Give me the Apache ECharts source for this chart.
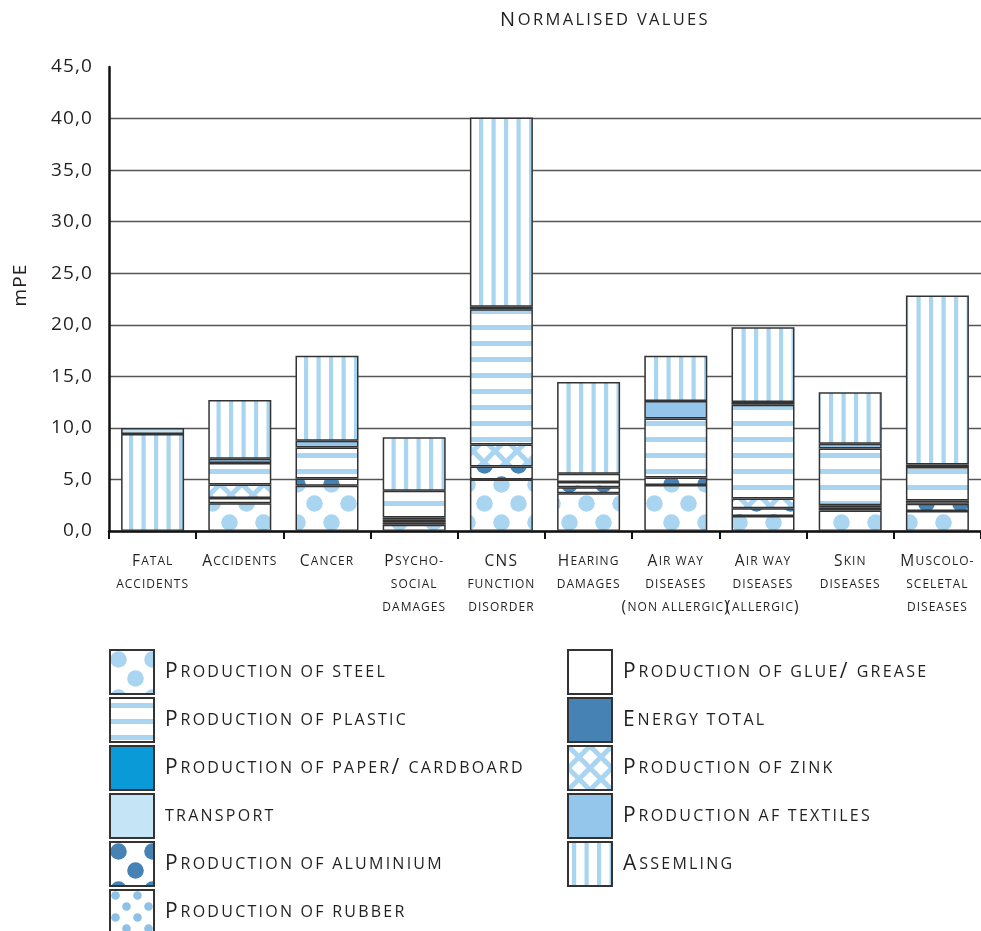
<!DOCTYPE html>
<html><head><meta charset="utf-8">
<script src="https://cdn.jsdelivr.net/npm/echarts@6/dist/echarts.min.js"></script>
<style>html,body{margin:0;padding:0;background:#fff}#c{width:981px;height:931px}</style>
</head><body><div id="c"></div>
<script>
// ---- data ----
const categories = ['Fatal\naccidents', 'Accidents', 'Cancer', 'Psycho-\nsocial\ndamages', 'CNS\nfunction\ndisorder',
  'Hearing\ndamages', 'Air way\ndiseases\n(non allergic)', 'Air way\ndiseases\n(allergic)', 'Skin\ndiseases', 'Muscolo-\nsceletal\ndiseases'];
const yMin = 0, yMax = 45, yStep = 5;
const titleText = 'Normalised values';
const yName = 'mPE';

const steel      = [0,   2.7, 4.4,  0.6,  5.0,   3.65, 4.45, 1.45, 2.0,  1.95];
const aluminium  = [0,   0,   0.7,  0.25, 1.25,  0.6,  0.75, 0.75, 0,    0.7];
const rubber     = [0,   0,   0,    0.3,  0,     0.5,  0,    0,    0,    0];
const glue       = [0,   0.5, 0,    0.15, 0,     0,    0,    0,    0.25, 0.3];
const energy     = [0,   0,   0,    0,    0,     0,    0,    0,    0.25, 0];
const zink       = [0,   1.3, 0,    0,    2.15,  0,    0,    0.95, 0,    0];
const plastic    = [0,   2.1, 3.0,  2.6,  13.1,  0.8,  5.7,  9.1,  5.5,  3.25];
const paper      = [0,   0,   0,    0,    0.25,  0,    0,    0.25, 0,    0.25];
const textiles   = [0,   0.4, 0.65, 0,    0,     0,    1.7,  0,    0.45, 0];
const assembling = [9.4, 5.7, 8.25, 5.2,  18.35, 8.9,  4.4,  7.25, 5.0,  16.4];
const transport  = [0.6, 0,   0,    0,    0,     0,    0,    0,    0,    0];

const legendLeft  = ['Production of steel', 'Production of plastic', 'Production of paper/ cardboard', 'transport', 'Production of aluminium', 'Production of rubber'];
const legendRight = ['Production of glue/ grease', 'Energy total', 'Production of zink', 'Production af textiles', 'Assemling'];

// ---- letter tracking for canvas text (small caps typography of the original) ----
(function () {
  const P = window.CanvasRenderingContext2D && CanvasRenderingContext2D.prototype;
  if (!P || !('letterSpacing' in P)) return;
  const d = Object.getOwnPropertyDescriptor(P, 'font');
  if (!d || !d.set) return;
  Object.defineProperty(P, 'font', {
    configurable: true, enumerable: d.enumerable,
    get() { return d.get.call(this); },
    set(v) {
      d.set.call(this, v);
      const m = /([\d.]+)px/.exec(v);
      if (m) {
        const s = parseFloat(m[1]);
        let em = 0.14;
        if (s > 18.5 && s < 19.5) em = 0.06;       // numeric tick labels / axis name
        else if (s < 15.8) em = 0.085;             // category labels
        try { this.letterSpacing = (s * em).toFixed(2) + 'px'; } catch (e) {}
      }
    }
  });
})();

// ---- patterns ----
const LIGHT = '#aad5f0';
function tile(w, h, draw) {
  const c = document.createElement('canvas');
  c.width = w; c.height = h;
  const g = c.getContext('2d');
  g.fillStyle = '#ffffff'; g.fillRect(0, 0, w, h);
  draw(g, w, h);
  return { image: c, repeat: 'repeat' };
}
function dots(g, col, pts, r) {
  g.fillStyle = col;
  pts.forEach(p => { g.beginPath(); g.arc(p[0], p[1], r, 0, Math.PI * 2); g.fill(); });
}
const patSteel = tile(34, 38, g => dots(g, LIGHT, [[8.5, 9.5], [25.5, 28.5]], 8.3));
const patAlu = tile(34, 38, g => dots(g, '#4682b4', [[8.5, 9.5], [25.5, 28.5]], 8.3));
const patRubber = tile(22, 22, g => dots(g, '#8ec1e8', [[5.5, 5.5], [16.5, 16.5]], 4.3));
const patPlastic = tile(8, 16, g => { g.fillStyle = LIGHT; g.fillRect(0, 5, 8, 5); });
const patAssem = tile(25, 8, g => { g.fillStyle = LIGHT; g.fillRect(4, 0, 4.2, 8); g.fillRect(16.5, 0, 4.2, 8); });
const patZink = tile(22, 22, g => {
  g.strokeStyle = LIGHT; g.lineWidth = 5;
  [-22, 0, 22].forEach(dx => {
    g.beginPath(); g.moveTo(dx, 0); g.lineTo(dx + 22, 22); g.stroke();
    g.beginPath(); g.moveTo(dx + 22, 0); g.lineTo(dx, 22); g.stroke();
  });
});

// ---- small caps helper ----
function sc(str) {
  let out = '', cur = null, buf = '';
  const flush = () => { if (buf) out += '{' + cur + '|' + buf + '}'; buf = ''; };
  for (const ch of str) {
    const big = (ch >= 'A' && ch <= 'Z') || ch === '(' || ch === ')' || ch === '/';
    const t = big ? 'B' : 'S';
    if (t !== cur) { flush(); cur = t; }
    buf += big ? ch : ch.toUpperCase();
  }
  flush();
  return out;
}

const FONT = 'Open Sans';
const TXT = '#231f20';

const seriesDefs = [
  ['Production of steel', steel, patSteel],
  ['Production of aluminium', aluminium, patAlu],
  ['Production of rubber', rubber, patRubber],
  ['Production of glue/ grease', glue, '#ffffff'],
  ['Energy total', energy, '#4682b4'],
  ['Production of zink', zink, patZink],
  ['Production of plastic', plastic, patPlastic],
  ['Production of paper/ cardboard', paper, '#0a9ad8'],
  ['Production af textiles', textiles, '#93c6ea'],
  ['Assemling', assembling, patAssem],
  ['transport', transport, '#c5e4f6']
];

const series = seriesDefs.map(([name, vals, color]) => ({
  name, type: 'bar', stack: 'total', barWidth: 63,
  data: vals.map(v => (v > 0 ? v : '-')),
  itemStyle: { color, borderColor: '#333333', borderWidth: 1.5 },
  emphasis: { disabled: true }, silent: true, animation: false
}));

const legendText = {
  color: TXT, fontFamily: FONT, fontWeight: 'normal', padding: [0, 0, 0, 6],
  rich: {
    B: { fontSize: 21, fontFamily: FONT, fontWeight: 'normal', color: TXT },
    S: { fontSize: 16, fontFamily: FONT, fontWeight: 'normal', color: TXT }
  }
};
const legendBase = {
  orient: 'vertical', itemWidth: 44, itemHeight: 44, itemGap: 2, padding: 0, height: 300,
  icon: 'rect', selectedMode: false, formatter: n => sc(n), textStyle: legendText
};

const chart = echarts.init(document.getElementById('c'), null, { renderer: 'canvas' });
chart.setOption({
  animation: false,
  backgroundColor: '#ffffff',
  title: {
    text: sc(titleText), left: 500, top: 9, padding: 0,
    textStyle: {
      fontWeight: 'normal',
      rich: {
        B: { fontSize: 20, fontFamily: FONT, fontWeight: 'normal', color: TXT },
        S: { fontSize: 16.5, fontFamily: FONT, fontWeight: 'normal', color: TXT }
      }
    }
  },
  grid: { left: 109, right: 0, top: 67, bottom: 400, containLabel: false },
  xAxis: {
    type: 'category', data: categories,
    axisLine: { lineStyle: { color: '#111', width: 2.5 } },
    axisTick: { show: true, interval: 0, length: 8, alignWithLabel: false, lineStyle: { color: '#111', width: 2 } },
    axisLabel: {
      interval: 0, margin: 19, color: TXT,
      formatter: v => v.split('\n').map(sc).join('\n'),
      rich: {
        B: { fontSize: 15.5, fontFamily: FONT, color: TXT, lineHeight: 23 },
        S: { fontSize: 12, fontFamily: FONT, color: TXT, lineHeight: 23 }
      }
    }
  },
  yAxis: {
    type: 'value', min: yMin, max: yMax, interval: yStep,
    name: yName, nameLocation: 'middle', nameGap: 78, nameRotate: 90,
    nameTextStyle: { fontSize: 19, fontFamily: FONT, color: TXT, padding: [0, 0, 0, 28] },
    axisLine: { show: true, lineStyle: { color: '#111', width: 2.5 } },
    axisTick: { show: false },
    axisLabel: { margin: 16, fontSize: 19, fontFamily: FONT, color: TXT, formatter: v => v.toFixed(1).replace('.', ',') },
    splitLine: { show: true, showMaxLine: false, lineStyle: { color: '#555555', width: 1.3 } }
  },
  legend: [
    Object.assign({}, legendBase, { left: 109, top: 649, data: legendLeft }),
    Object.assign({}, legendBase, { left: 567, top: 649, data: legendRight })
  ],
  series
});
</script></body></html>
